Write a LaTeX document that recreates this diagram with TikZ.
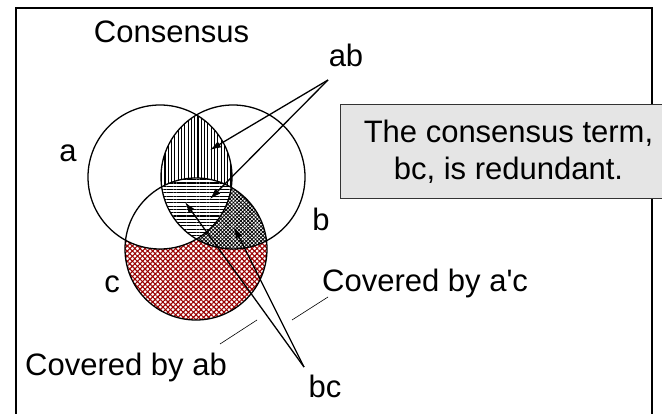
\documentclass[tikz,border=0pt]{standalone}
\usepackage{fontspec}
\setmainfont{Liberation Sans}
\usetikzlibrary{positioning,patterns.meta,arrows.meta}

\begin{document}
\begin{tikzpicture}[
    x=1pt, y=-1pt,
    lbl/.style={font=\fontsize{31}{37}\selectfont, inner sep=0pt},
    arr/.style={-{Latex[length=11pt,width=7pt]}, line width=1.3pt},
    lead/.style={line width=0.6pt},
    ring/.style={line width=1.3pt}
]
\useasboundingbox (0,0) rectangle (662,414);
\draw[line width=1.2pt] (16,8) rectangle (652,420);

\coordinate (ca) at (160,177);
\coordinate (cb) at (233,177);
\coordinate (cc) at (196,249);

% c only
\fill[pattern={Lines[angle=45,distance=3.6pt,line width=1.1pt]}, pattern color=red!60!black] (cc) circle (71pt);
\fill[pattern={Lines[angle=-45,distance=3.6pt,line width=1.1pt]}, pattern color=red!60!black] (cc) circle (71pt);
\begin{scope}
  \clip (cc) circle (71pt);
  \fill[white] (ca) circle (72pt);
  \fill[white] (cb) circle (72pt);
  % b and c
  \fill[pattern={Lines[angle=45,distance=2.6pt,line width=0.8pt]}] (cb) circle (72pt);
  \fill[pattern={Lines[angle=-45,distance=2.6pt,line width=0.8pt]}] (cb) circle (72pt);
\end{scope}
% a and b
\begin{scope}
  \clip (ca) circle (72pt);
  \fill[white] (cb) circle (72pt);
  \fill[pattern={Lines[angle=90,distance=3.3pt,line width=1.1pt]}] (cb) circle (72pt);
\end{scope}
% a, b and c
\begin{scope}
  \clip (ca) circle (72pt);
  \clip (cc) circle (71pt);
  \fill[white] (cb) circle (72pt);
  \fill[pattern={Lines[angle=0,distance=3.3pt,line width=1.1pt]}] (cb) circle (72pt);
\end{scope}

\draw[ring] (ca) circle (72pt);
\draw[ring] (cb) circle (72pt);
\draw[ring] (cc) circle (71pt);

\node[lbl, anchor=base] (title) at (171.5,43) {Consensus};
\node[lbl, anchor=base] (la) at (68,162) {a};
\node[lbl, anchor=base] (lb) at (321,231) {b};
\node[lbl, anchor=base] (lc) at (112,293) {c};
\node[lbl, anchor=base] (ab) at (346,67) {ab};
\node[lbl, anchor=base] (bc) at (325,397) {bc};
\node[lbl, anchor=base west] (covac) at (322,292) {Covered by a\textquotesingle c};
\node[lbl, anchor=base west] (covab) at (25,375) {Covered by ab};

% arrows
\coordinate (abfrom) at (328,80);
\coordinate (bcfrom) at (304,367);
\coordinate (abtop) at (210,150);
\coordinate (abmid) at (210,199);
\coordinate (bcmid) at (185,202);
\coordinate (bcright) at (234,227);
\draw[arr] (abfrom) -- (abtop);
\draw[arr] (abfrom) -- (abmid);
\draw[arr] (bcfrom) -- (bcmid);
\draw[arr] (bcfrom) -- (bcright);

\coordinate (acl) at (292,320);
\coordinate (acr) at (328,297);
\coordinate (abl) at (220,344);
\coordinate (abr) at (257,320);
\draw[lead] (acl) -- (acr);
\draw[lead] (abl) -- (abr);

\node[draw=black!80, line width=1pt, fill=black!10, minimum width=336pt, minimum height=94pt,
      align=center, font=\fontsize{31}{37}\selectfont, anchor=north west] (note) at (340,104)
      {The consensus term,\\bc, is redundant.};
\end{tikzpicture}
\end{document}
